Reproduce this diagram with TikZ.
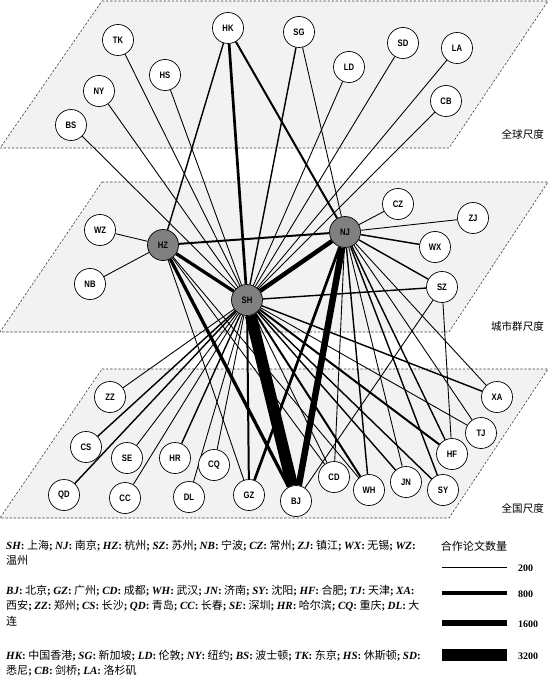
\documentclass[tikz,border=0pt]{standalone}
\usepackage{fontspec}
\setmainfont{Noto Sans CJK SC}
\newfontfamily\latfont{Liberation Serif}
\newfontfamily\nodefont{Liberation Sans}[FakeStretch=0.82]
\usepackage{tikz}
\definecolor{planefill}{HTML}{F2F2F2}
\definecolor{hubfill}{HTML}{808080}
\definecolor{ink}{HTML}{000000}
\pgfdeclarelayer{planes}
\pgfdeclarelayer{links}
\pgfsetlayers{planes,links,main}
\newcommand{\legab}[1]{{\latfont\bfseries\itshape #1}{\latfont\bfseries:} }
\newcommand{\legsep}{{\latfont\bfseries;} }

\begin{document}
\begin{tikzpicture}[x=0.03cm, y=-0.03cm,
  city/.style={circle, draw=ink, line width=0.6pt, fill=white, minimum size=0.93cm,
    inner sep=0pt, font=\nodefont\bfseries\fontsize{8}{9}\selectfont},
  hub/.style={city, fill=hubfill},
  plane/.style={fill=planefill, draw=ink!75, dash pattern=on 2pt off 1.5pt, line width=0.5pt},
  lk1/.style={ink, line width=0.75pt},
  lk2/.style={ink, line width=1.2pt},
  lk3/.style={ink, line width=1.7pt},
  lk4/.style={ink, line width=2.3pt},
  lk5/.style={ink, line width=2.8pt},
  lk6/.style={ink, line width=3.8pt},
  lk7/.style={ink, line width=5.5pt},
  lk8/.style={ink, line width=10pt},
  scalename/.style={anchor=east, font=\fontsize{9}{10}\selectfont},
  legtext/.style={anchor=north west, align=left, inner sep=0pt, font=\fontsize{9.4}{13}\selectfont}]
  \useasboundingbox (0,0) rectangle (554,684);

  % three scale planes
  \begin{pgfonlayer}{planes}
    \draw[plane] (102,1) -- (548,1) -- (449,148) -- (0,148) -- cycle;
    \draw[plane] (102,182) -- (548,182) -- (449,332) -- (0,332) -- cycle;
    \draw[plane] (102,369) -- (548,369) -- (449,518) -- (0,518) -- cycle;
  \end{pgfonlayer}
  \node[scalename] (globaltag) at (548,134) {全球尺度};
  \node[scalename] (clustertag) at (548,326) {城市群尺度};
  \node[scalename] (nationtag) at (548,508) {全国尺度};

  % global cities
  \node[city] (HK) at (228,28) {HK};
  \node[city] (TK) at (118,40) {TK};
  \node[city] (SG) at (299,32) {SG};
  \node[city] (SD) at (403,43) {SD};
  \node[city] (LA) at (457,48) {LA};
  \node[city] (LD) at (349,67) {LD};
  \node[city] (HS) at (165,75) {HS};
  \node[city] (NY) at (99,91) {NY};
  \node[city] (BS) at (71,125) {BS};
  \node[city] (CB) at (446,101) {CB};

  % city cluster
  \node[city] (WZ) at (100,230) {WZ};
  \node[hub]  (HZ) at (163,245) {HZ};
  \node[city] (NB) at (90,284) {NB};
  \node[hub]  (NJ) at (345,232) {NJ};
  \node[city] (CZ) at (398,204) {CZ};
  \node[city] (ZJ) at (473,218) {ZJ};
  \node[city] (WX) at (435,247) {WX};
  \node[city] (SZ) at (442,287) {SZ};
  \node[hub]  (SH) at (247,300) {SH};

  % national cities
  \node[city] (ZZ) at (110,397) {ZZ};
  \node[city] (XA) at (497,397) {XA};
  \node[city] (CS) at (86,447) {CS};
  \node[city] (TJ) at (481,433) {TJ};
  \node[city] (SE) at (127,458) {SE};
  \node[city] (HR) at (175,458) {HR};
  \node[city] (CQ) at (214,465) {CQ};
  \node[city] (HF) at (452,454) {HF};
  \node[city] (QD) at (64,495) {QD};
  \node[city] (CC) at (125,498) {CC};
  \node[city] (DL) at (189,497) {DL};
  \node[city] (GZ) at (249,495) {GZ};
  \node[city] (BJ) at (296,501) {BJ};
  \node[city] (CD) at (334,477) {CD};
  \node[city] (WH) at (369,490) {WH};
  \node[city] (JN) at (406,482) {JN};
  \node[city] (SY) at (443,490) {SY};

  % co-authorship links
  \begin{pgfonlayer}{links}
    \foreach \a/\b in {BS/SH, NY/SH, TK/SH, HS/SH, SG/NJ, LD/SH, SD/SH, LA/SH, CB/SH,
        WZ/HZ, NB/HZ, CZ/NJ, ZJ/NJ,
        SH/ZZ, SH/SE, SH/CC, SH/DL, SH/CQ, SH/CD, SH/TJ, HZ/GZ, HZ/CD, HZ/WH,
        SZ/HF, SZ/BJ, NJ/CD, NJ/JN, NJ/TJ, NJ/XA}
      \draw[lk1] (\a) -- (\b);
    \foreach \a/\b in {SG/SH, HK/HZ, WX/NJ, SZ/NJ, SZ/SH,
        SH/CS, SH/QD, SH/HR, SH/JN, SH/SY, SH/XA, NJ/WH, NJ/SY, NJ/HF}
      \draw[lk2] (\a) -- (\b);
    \foreach \a/\b in {HK/NJ, HZ/NJ, SH/GZ, SH/WH, SH/HF}
      \draw[lk3] (\a) -- (\b);
    \draw[lk4] (HK) -- (SH);
    \draw[lk4] (NJ) -- (GZ);
    \draw[lk5] (HZ) -- (SH);
    \draw[lk5] (HZ) -- (BJ);
    \draw[lk6] (NJ) -- (SH);
    \draw[lk7] (NJ) -- (BJ);
    \draw[lk8] (SH) -- (BJ);
  \end{pgfonlayer}

  % abbreviation key
  \node[legtext] (keycluster) at (6,540)
    {\legab{SH}上海\legsep\legab{NJ}南京\legsep\legab{HZ}杭州\legsep\legab{SZ}苏州\legsep\legab{NB}宁波\legsep\legab{CZ}常州\legsep\legab{ZJ}镇江\legsep\legab{WX}无锡\legsep\legab{WZ}\\
     温州};
  \node[legtext] (keynation) at (6,585)
    {\legab{BJ}北京\legsep\legab{GZ}广州\legsep\legab{CD}成都\legsep\legab{WH}武汉\legsep\legab{JN}济南\legsep\legab{SY}沈阳\legsep\legab{HF}合肥\legsep\legab{TJ}天津\legsep\legab{XA}\\
     西安\legsep\legab{ZZ}郑州\legsep\legab{CS}长沙\legsep\legab{QD}青岛\legsep\legab{CC}长春\legsep\legab{SE}深圳\legsep\legab{HR}哈尔滨\legsep\legab{CQ}重庆\legsep\legab{DL}大\\
     连};
  \node[legtext] (keyglobal) at (6,650)
    {\legab{HK}中国香港\legsep\legab{SG}新加坡\legsep\legab{LD}伦敦\legsep\legab{NY}纽约\legsep\legab{BS}波士顿\legsep\legab{TK}东京\legsep\legab{HS}休斯顿\legsep\legab{SD}\\
     悉尼\legsep\legab{CB}剑桥\legsep\legab{LA}洛杉矶};

  % line width key
  \node[font=\fontsize{9.4}{10}\selectfont] (widthtitle) at (474,546) {合作论文数量};
  \draw[lk1] (442,567) -- (507,567);
  \draw[lk5] (442,593) -- (507,593);
  \draw[lk7] (442,623) -- (507,623);
  \draw[lk8] (442,655) -- (507,655);
  \node[anchor=west, font=\latfont\bfseries\fontsize{8.5}{10}\selectfont] (w200) at (514,568) {200};
  \node[anchor=west, font=\latfont\bfseries\fontsize{8.5}{10}\selectfont] (w800) at (514,594) {800};
  \node[anchor=west, font=\latfont\bfseries\fontsize{8.5}{10}\selectfont] (w1600) at (514,624) {1600};
  \node[anchor=west, font=\latfont\bfseries\fontsize{8.5}{10}\selectfont] (w3200) at (514,656) {3200};
\end{tikzpicture}
\end{document}
